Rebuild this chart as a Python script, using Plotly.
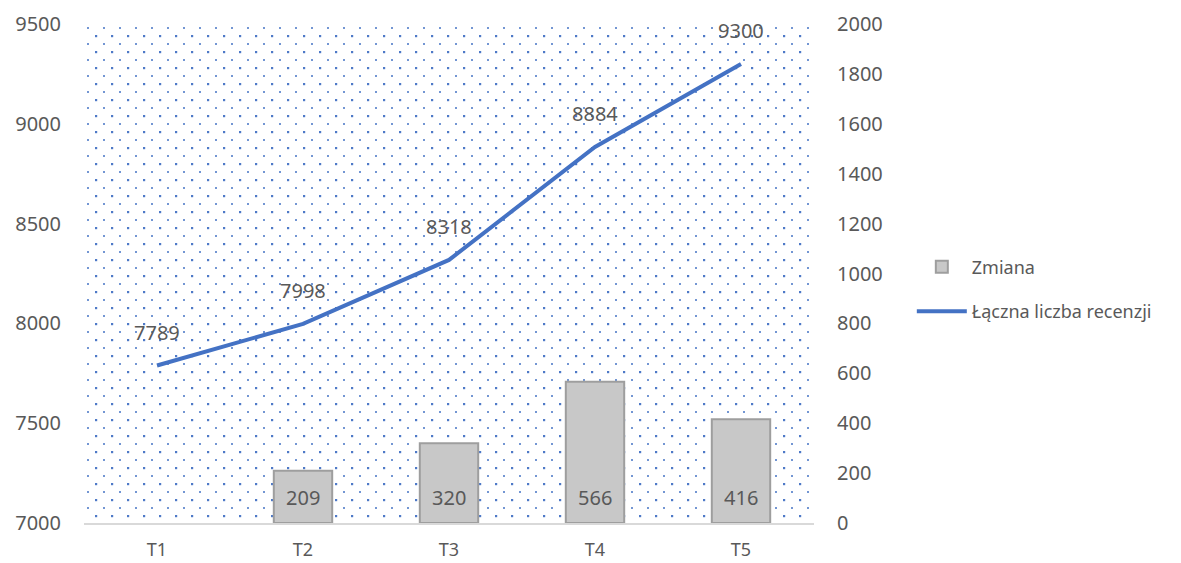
import base64
import plotly.graph_objects as go

categories = ["T1", "T2", "T3", "T4", "T5"]
zmiana = [None, 209, 320, 566, 416]
laczna = [7789, 7998, 8318, 8884, 9300]

W, H = 1181, 563
ML, MR, MT, MB = 84, 367, 24, 40
PW, PH = W - ML - MR, H - MT - MB

# dotted background pattern (style only)
svg = f'''<svg xmlns="http://www.w3.org/2000/svg" width="{PW}" height="{PH}" viewBox="0 0 {PW} {PH}" preserveAspectRatio="none">
<defs><pattern id="p" x="0" y="0" width="16" height="16" patternUnits="userSpaceOnUse">
<rect x="3" y="3" width="2" height="2" fill="#4472C4" fill-opacity="0.75"/>
<rect x="11" y="11" width="2.2" height="2.2" fill="#4472C4" fill-opacity="0.95"/>
</pattern></defs>
<rect width="{PW}" height="{PH}" fill="url(#p)"/></svg>'''
src = "data:image/svg+xml;base64," + base64.b64encode(svg.encode()).decode()

FONT = "Noto Sans"
GREY = "#595959"

fig = go.Figure()
fig.add_trace(go.Bar(
    x=categories, y=zmiana, name="Zmiana", yaxis="y2",
    marker=dict(color="#c8c8c8", line=dict(color="#9e9e9e", width=2)),
    width=0.4, legendgroup="a",
))
fig.add_trace(go.Scatter(
    x=categories, y=laczna, name="Łączna liczba recenzji", mode="lines",
    line=dict(color="#4472C4", width=4), legendgroup="b",
))

annotations = []
for c, v in zip(categories, laczna):
    annotations.append(dict(x=c, y=v, xref="x", yref="y", text=str(v), showarrow=False,
                            yshift=33, font=dict(family=FONT, size=20, color=GREY)))
for c, v in zip(categories, zmiana):
    if v is None:
        continue
    annotations.append(dict(x=c, y=0, xref="x", yref="y2", text=str(v), showarrow=False,
                            yanchor="middle", yshift=26, font=dict(family=FONT, size=20, color=GREY)))

fig.update_layout(
    width=W, height=H,
    margin=dict(l=ML, r=MR, t=MT, b=MB, autoexpand=False),
    paper_bgcolor="white", plot_bgcolor="rgba(0,0,0,0)",
    font=dict(family=FONT, size=17, color=GREY),
    images=[dict(source=src, xref="paper", yref="paper", x=0, y=1, sizex=1, sizey=1,
                 xanchor="left", yanchor="top", sizing="stretch", layer="below")],
    xaxis=dict(showgrid=False, showline=True, linecolor="#d9d9d9", linewidth=1.5,
               ticks="", tickfont=dict(size=18, color=GREY), ticklabelstandoff=10),
    yaxis=dict(range=[7000, 9500], dtick=500, showgrid=False, zeroline=False,
               ticks="", tickfont=dict(size=20, color=GREY), ticklabelstandoff=22),
    yaxis2=dict(range=[0, 2000], dtick=200, overlaying="y", side="right", showgrid=False,
                zeroline=False, ticks="", tickfont=dict(size=20, color=GREY), ticklabelstandoff=22),
    legend=dict(x=1.134, y=0.55, xanchor="left", yanchor="top", font=dict(size=18, color=GREY),
                tracegroupgap=18, itemwidth=50, bgcolor="rgba(0,0,0,0)"),
    annotations=annotations,
    bargap=0.6,
)
fig.write_html("out.html")
